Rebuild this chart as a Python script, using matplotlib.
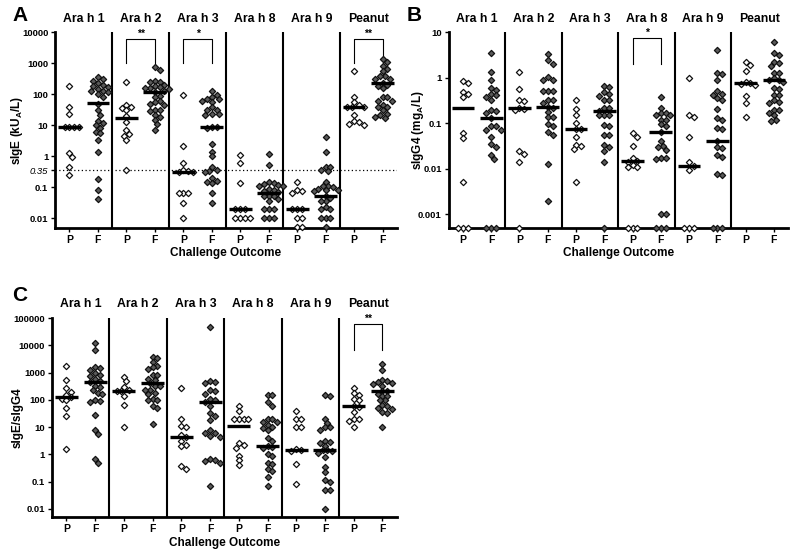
import numpy as np
import matplotlib
matplotlib.use('Agg')
import matplotlib.pyplot as plt

plt.rcParams['font.family'] = ['Liberation Sans', 'DejaVu Sans']
plt.rcParams['font.weight'] = 'bold'
plt.rcParams['mathtext.fontset'] = 'custom'
plt.rcParams['mathtext.rm'] = 'Liberation Sans:bold'
plt.rcParams['mathtext.bf'] = 'Liberation Sans:bold'

groups = ['Ara h 1', 'Ara h 2', 'Ara h 3', 'Ara h 8', 'Ara h 9', 'Peanut']

# panel A: sIgE, P = passed challenge, F = failed challenge
sige_pass = [
    [190, 40, 23, 8.5, 8.5, 8.5, 8.5, 1.3, 0.95, 0.43, 0.25],
    [250, 45, 38, 35, 30, 20, 13, 7, 5, 4.5, 3.3, 0.35],
    [95, 2.1, 0.6, 0.35, 0.32, 0.3, 0.3, 0.065, 0.065, 0.065, 0.03, 0.01],
    [1.1, 0.62, 0.14, 0.02, 0.02, 0.02, 0.01, 0.01, 0.01, 0.01],
    [0.15, 0.08, 0.075, 0.065, 0.02, 0.02, 0.02, 0.01, 0.01, 0.005, 0.005],
    [550, 80, 55, 45, 40, 40, 38, 22, 14, 13, 11, 10.5],
]
sige_fail = [
    [360, 300, 270, 230, 200, 180, 170, 150, 130, 130, 120, 100, 80, 50, 30, 22, 14, 12, 10, 8, 6, 5.5, 3.2, 1.4, 0.18, 0.08, 0.04],
    [750, 600, 270, 250, 250, 200, 180, 170, 160, 160, 150, 130, 120, 90, 80, 60, 55, 50, 45, 32, 30, 28, 22, 18, 15, 11, 7],
    [125, 95, 80, 72, 68, 62, 55, 38, 32, 30, 23, 23, 22, 9, 8.5, 8, 2.5, 1.4, 0.98, 0.45, 0.35, 0.33, 0.3, 0.2, 0.16, 0.15, 0.14, 0.065, 0.03],
    [1.2, 0.5, 0.15, 0.14, 0.13, 0.12, 0.11, 0.11, 0.09, 0.08, 0.075, 0.07, 0.05, 0.05, 0.05, 0.04, 0.035, 0.02, 0.02, 0.02, 0.01, 0.01, 0.01],
    [4.2, 1.4, 0.45, 0.45, 0.35, 0.32, 0.15, 0.11, 0.11, 0.1, 0.085, 0.08, 0.08, 0.075, 0.05, 0.045, 0.035, 0.035, 0.022, 0.02, 0.02, 0.01, 0.01, 0.01, 0.005],
    [1400, 1100, 800, 650, 550, 400, 380, 300, 300, 230, 200, 180, 160, 80, 80, 60, 60, 45, 40, 38, 30, 23, 22, 18, 17],
]
sige_pass_med = [8.5, 17, 0.3, 0.02, 0.02, 39]
sige_fail_med = [52, 115, 8.5, 0.063, 0.05, 230]

# panel B: sIgG4 (0.0005 = below detection, drawn on the axis)
sigg4_pass = [
    [0.85, 0.75, 0.48, 0.45, 0.38, 0.06, 0.047, 0.005, 0.0005, 0.0005, 0.0005],
    [1.35, 0.58, 0.32, 0.31, 0.22, 0.21, 0.2, 0.024, 0.021, 0.014, 0.0005],
    [0.33, 0.21, 0.15, 0.1, 0.075, 0.073, 0.05, 0.034, 0.032, 0.027, 0.005],
    [0.06, 0.05, 0.032, 0.017, 0.015, 0.014, 0.012, 0.011, 0.011, 0.0005, 0.0005, 0.0005],
    [1.0, 0.15, 0.14, 0.05, 0.014, 0.0117, 0.0095, 0.0005, 0.0005, 0.0005],
    [2.2, 1.9, 1.4, 0.8, 0.75, 0.72, 0.7, 0.4, 0.28, 0.14],
]
sigg4_fail = [
    [3.5, 1.35, 0.88, 0.6, 0.55, 0.45, 0.42, 0.38, 0.32, 0.2, 0.19, 0.17, 0.13, 0.085, 0.085, 0.07, 0.07, 0.05, 0.035, 0.03, 0.02, 0.016, 0.0005, 0.0005, 0.0005],
    [3.4, 2.4, 2.0, 1.05, 0.9, 0.88, 0.52, 0.52, 0.5, 0.32, 0.32, 0.28, 0.23, 0.22, 0.18, 0.14, 0.14, 0.095, 0.085, 0.065, 0.055, 0.013, 0.002],
    [0.65, 0.62, 0.48, 0.43, 0.4, 0.33, 0.32, 0.22, 0.22, 0.19, 0.15, 0.15, 0.15, 0.09, 0.085, 0.055, 0.055, 0.034, 0.03, 0.025, 0.014, 0.0005],
    [0.38, 0.22, 0.17, 0.17, 0.15, 0.15, 0.12, 0.12, 0.095, 0.085, 0.065, 0.04, 0.032, 0.03, 0.026, 0.017, 0.017, 0.016, 0.001, 0.001, 0.0005, 0.0005, 0.0005],
    [4.0, 1.3, 1.2, 0.9, 0.5, 0.45, 0.42, 0.35, 0.33, 0.21, 0.13, 0.12, 0.08, 0.075, 0.04, 0.03, 0.028, 0.02, 0.018, 0.0075, 0.0072, 0.0005, 0.0005, 0.0005],
    [6.0, 3.5, 3.2, 2.2, 2.1, 1.8, 1.3, 1.3, 1.0, 0.9, 0.88, 0.8, 0.6, 0.58, 0.42, 0.42, 0.32, 0.3, 0.28, 0.2, 0.2, 0.17, 0.15, 0.12, 0.11],
]
sigg4_pass_med = [0.22, 0.22, 0.073, 0.0145, 0.0115, 0.75]
sigg4_fail_med = [0.13, 0.23, 0.19, 0.063, 0.04, 0.91]

# panel C: sIgE/sIgG4 ratio
ratio_pass = [
    [1700, 520, 270, 200, 150, 130, 110, 95, 50, 25, 1.6],
    [700, 480, 300, 230, 215, 210, 140, 65, 10],
    [280, 20, 11, 10, 5, 4.5, 3, 2.2, 2, 0.38, 0.3],
    [60, 40, 20, 20, 20, 20, 2.5, 2.2, 1.7, 0.9, 0.6, 0.4],
    [40, 20, 20, 10, 10, 1.6, 1.5, 1.3, 0.45, 0.08],
    [270, 180, 150, 110, 100, 60, 55, 35, 20, 20, 17, 10],
]
ratio_fail = [
    [12000, 6500, 1600, 1500, 1200, 1000, 800, 750, 600, 480, 450, 320, 300, 220, 180, 170, 100, 90, 80, 27, 8, 5.5, 0.7, 0.5],
    [3700, 3400, 2400, 1800, 1600, 1300, 800, 800, 600, 550, 400, 320, 310, 230, 230, 180, 160, 110, 100, 100, 60, 50, 13],
    [45000, 500, 450, 430, 220, 210, 170, 110, 100, 80, 60, 33, 25, 18, 8, 6, 6, 4.8, 4.5, 0.7, 0.6, 0.55, 0.5, 0.07],
    [150, 150, 80, 60, 20, 20, 15, 15, 12, 10, 9, 8, 4, 3, 2, 1.8, 1.7, 1.0, 0.9, 0.5, 0.45, 0.3, 0.25, 0.15, 0.07],
    [150, 140, 20, 14, 10, 10, 8, 3, 2.8, 2.5, 2, 1.4, 1.4, 1.3, 1.1, 0.8, 0.35, 0.22, 0.11, 0.1, 0.05, 0.05, 0.01],
    [2000, 1200, 550, 500, 450, 400, 380, 320, 210, 210, 160, 140, 140, 100, 100, 65, 60, 50, 45, 35, 32, 10],
]
ratio_pass_med = [130, 210, 4.5, 11, 1.5, 57]
ratio_fail_med = [450, 410, 80, 2.1, 1.4, 210]

# significance brackets: group index, stars, low end, high end
sig_a = [(1, '**'), (2, '*'), (5, '**')]
sig_a_range = (1000, 6200)
sig_b = [(3, '*')]
sig_b_range = (2, 7.5)
sig_c = [(5, '**')]
sig_c_range = (6900, 62000)


def swarm_x(ax, xc, vals, d=4.6, step=2.4):
    # simple beeswarm in pixel space
    pts = ax.transData.transform(np.column_stack([np.full(len(vals), xc), vals]))
    placed = []
    out = []
    for px, py in pts:
        k = 0
        while True:
            off = ((k + 1) // 2) * step * (1 if k % 2 else -1) if k else 0.0
            ok = all((px + off - qx) ** 2 + (py - qy) ** 2 >= d * d for qx, qy in placed)
            if ok:
                break
            k += 1
        placed.append((px + off, py))
        out.append(px + off)
    inv = ax.transData.inverted()
    return [inv.transform((x, 1))[0] for x in out]


def draw_panel(ax, pas, fail, pmed, fmed, ylim, ticks, ticklabels, ylabel, ylab_x, sig, sig_range):
    ax.set_xlim(0, 6)
    ax.set_yscale('log')
    ax.set_ylim(*ylim)
    for i in range(6):
        for vals, xc, face, med in [(pas[i], i + 0.25, 'white', pmed[i]),
                                     (fail[i], i + 0.75, '#5a5a5a', fmed[i])]:
            xs = swarm_x(ax, xc, vals)
            ax.scatter(xs, vals, marker='D', s=10, facecolor=face, edgecolor='#111111',
                       linewidth=0.9, zorder=3, clip_on=False)
            ax.plot([xc - 0.2, xc + 0.2], [med, med], color='black', lw=2.4, zorder=4,
                    solid_capstyle='butt')
        if i > 0:
            ax.axvline(i, color='black', lw=1.5)
        ax.text(i + 0.5, 1.07, groups[i], transform=ax.get_xaxis_transform(),
                ha='center', va='center', fontsize=8.8, fontweight='bold')
    for gi, stars in sig:
        lo, hi = sig_range
        ax.plot([gi + 0.25, gi + 0.25, gi + 0.75, gi + 0.75], [lo, hi, hi, lo],
                color='black', lw=0.8)
        ax.text(gi + 0.5, hi, stars, ha='center', va='bottom', fontsize=7.5)
    ax.spines['top'].set_visible(False)
    ax.spines['right'].set_visible(False)
    ax.spines['left'].set_linewidth(2)
    ax.spines['bottom'].set_linewidth(2)
    ax.set_yticks(ticks)
    ax.set_yticklabels(ticklabels, fontsize=6.8, fontweight='bold')
    ax.set_yticks([], minor=True)
    xt = [i + o for i in range(6) for o in (0.25, 0.75)]
    ax.set_xticks(xt)
    ax.set_xticklabels(['P', 'F'] * 6, fontsize=7.5, fontweight='bold')
    ax.tick_params(axis='both', length=3, width=1, pad=2)
    ax.set_ylabel(ylabel, fontsize=8.5, fontweight='bold')
    ax.yaxis.set_label_coords(ylab_x, 0.5)
    ax.text(0.5, -0.13, 'Challenge Outcome', transform=ax.transAxes, ha='center',
            va='center', fontsize=8.5, fontweight='bold')


fig = plt.figure(figsize=(8, 5.56), dpi=100)
ax_a = fig.add_axes([0.069, 0.590, 0.427, 0.352])
ax_b = fig.add_axes([0.561, 0.590, 0.424, 0.352])
ax_c = fig.add_axes([0.065, 0.070, 0.431, 0.358])

draw_panel(ax_a, sige_pass, sige_fail, sige_pass_med, sige_fail_med, (0.0048, 10000),
           [0.01, 0.1, 0.35, 1, 10, 100, 1000, 10000],
           ['0.01', '0.1', '0.35', '1', '10', '100', '1000', '10000'],
           r'sIgE (kU$_\mathrm{A}$/L)', -0.088, sig_a, sig_a_range)
ax_a.axhline(0.35, color='black', lw=0.9, ls=(0, (1, 2)))
ax_a.get_yticklabels()[2].set_fontstyle('italic')
ax_a.get_yticklabels()[2].set_fontweight('normal')

draw_panel(ax_b, sigg4_pass, sigg4_fail, sigg4_pass_med, sigg4_fail_med, (0.0005, 10),
           [0.001, 0.01, 0.1, 1, 10], ['0.001', '0.01', '0.1', '1', '10'],
           r'sIgG4 (mg$_\mathrm{A}$/L)', -0.068, sig_b, sig_b_range)

draw_panel(ax_c, ratio_pass, ratio_fail, ratio_pass_med, ratio_fail_med, (0.005, 100000),
           [0.01, 0.1, 1, 10, 100, 1000, 10000, 100000],
           ['0.01', '0.1', '1', '10', '100', '1000', '10000', '100000'],
           'sIgE/sIgG4', -0.082, sig_c, sig_c_range)

fig.text(0.015, 0.972, 'A', fontsize=15, fontweight='bold', va='center')
fig.text(0.508, 0.972, 'B', fontsize=15, fontweight='bold', va='center')
fig.text(0.015, 0.468, 'C', fontsize=15, fontweight='bold', va='center')

fig.savefig('out.png', dpi=100)
